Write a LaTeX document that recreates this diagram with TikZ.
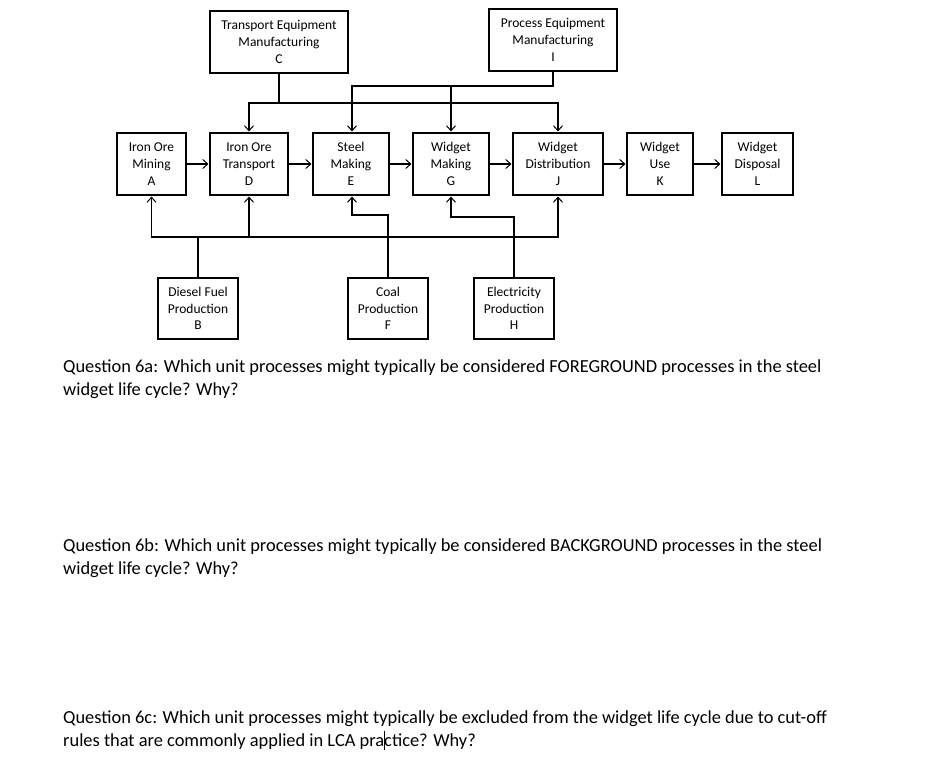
\documentclass[tikz,border=0pt]{standalone}
\usepackage{fontspec}
\setmainfont{Carlito}
\usetikzlibrary{arrows.meta}
\tikzset{
  box/.style={draw=black, line width=1.1pt, inner sep=0pt, align=center,
    font=\fontsize{13.5}{16.8}\selectfont, minimum height=62pt},
  conn/.style={draw=black, line width=1.1pt},
  arr/.style={conn, -{Straight Barb[length=5pt,width=9pt,line width=1pt]}, shorten >=1pt},
  qtext/.style={anchor=base west, inner sep=0pt, font=\fontsize{18.4}{22}\selectfont}
}
\newcommand{\caretmark}{\makebox[0pt]{\rule[-4pt]{0.8pt}{19pt}}}
\begin{document}
\begin{tikzpicture}[x=1pt,y=-1pt]
\useasboundingbox[fill=white] (0,0) rectangle (944,771);
% top boxes
\node[box, minimum width=138pt] (C) at (279,42) {Transport Equipment\\Manufacturing\\C};
\node[box, minimum width=128pt] (I) at (553,40) {Process Equipment\\Manufacturing\\I};
% main row
\node[box, minimum width=69pt] (A) at (151.5,164) {Iron Ore\\Mining\\A};
\node[box, minimum width=78pt] (D) at (249,164) {Iron Ore\\Transport\\D};
\node[box, minimum width=76pt] (E) at (351,164) {Steel\\Making\\E};
\node[box, minimum width=76pt] (G) at (451,164) {Widget\\Making\\G};
\node[box, minimum width=90pt] (J) at (558,164) {Widget\\Distribution\\J};
\node[box, minimum width=66pt] (K) at (660,164) {Widget\\Use\\K};
\node[box, minimum width=71pt] (L) at (757.5,164) {Widget\\Disposal\\L};
% bottom boxes
\node[box, minimum width=80pt, minimum height=61pt] (B) at (198,308.5) {Diesel Fuel\\Production\\B};
\node[box, minimum width=80pt, minimum height=61pt] (F) at (388,308.5) {Coal\\Production\\F};
\node[box, minimum width=80pt, minimum height=61pt] (H) at (514,308.5) {Electricity\\Production\\H};
% bus levels
\coordinate (cbus) at (0,103);
\coordinate (ibus) at (0,86);
\coordinate (bbus) at (0,237);
\coordinate (fbus) at (0,215);
\coordinate (hbus) at (0,217);
% chain
\draw[arr] (A) -- (D);
\draw[arr] (D) -- (E);
\draw[arr] (E) -- (G);
\draw[arr] (G) -- (J);
\draw[arr] (J) -- (K);
\draw[arr] (K) -- (L);
% top feeds
\draw[arr] (C.south) -- (C.south |- cbus) -| (D.north);
\draw[arr] (C.south |- cbus) -| (J.north);
\draw[arr] (I.south) -- (I.south |- ibus) -| ([xshift=1pt]E.north);
\draw[arr] (I.south |- ibus) -| (G.north);
% bottom feeds
\draw[arr] (B.north) -- (B.north |- bbus) -| (A.south);
\draw[arr] (B.north |- bbus) -| (D.south);
\draw[arr] (B.north |- bbus) -| (J.south);
\draw[arr] (F.north) -- (F.north |- fbus) -| ([xshift=1pt]E.south);
\draw[arr] (H.north) -- (H.north |- hbus) -| (G.south);
% questions
\node[qtext] (q1a) at (63,372) {Question 6a: Which unit processes might typically be considered FOREGROUND processes in the steel};
\node[qtext] (q1b) at (63,395) {widget life cycle? Why?};
\node[qtext] (q2a) at (63,551) {Question 6b: Which unit processes might typically be considered BACKGROUND processes in the steel};
\node[qtext] (q2b) at (63,574) {widget life cycle? Why?};
\node[qtext] (q3a) at (63,723) {Question 6c: Which unit processes might typically be excluded from the widget life cycle due to cut-off};
\node[qtext] (q3b) at (63,746) {rules that are commonly applied in LCA pra\caretmark ctice? Why?};
\end{tikzpicture}
\end{document}
